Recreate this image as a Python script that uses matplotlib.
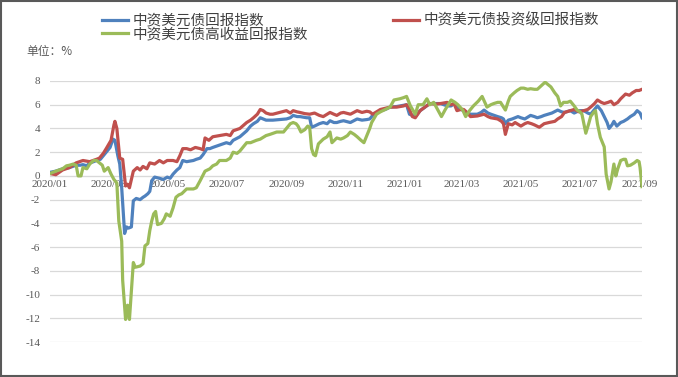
import numpy as np
import pandas as pd
import matplotlib
matplotlib.use('Agg')
import matplotlib.pyplot as plt
import matplotlib.dates as mdates
from matplotlib.patches import Rectangle

plt.rcParams['font.family'] = ['Liberation Serif', 'Noto Sans CJK SC']
plt.rcParams['axes.unicode_minus'] = False

start = pd.Timestamp('2020-01-01')

# days since 2020-01-01, values in %
blue_days = [0, 6, 13, 20, 27, 31, 34, 38, 41, 45, 48, 52, 55, 58, 62, 65, 67, 70, 72, 74,
             77, 79, 81, 84, 86, 89, 93, 96, 98, 101, 103, 105, 108, 113, 117, 121, 124, 127,
             131, 134, 137, 141, 148, 151, 155, 158, 162, 165, 168, 175, 182, 186, 189, 196,
             203, 207, 210, 214, 217, 220, 223, 230, 237, 244, 248, 251, 255, 258, 265, 268,
             270, 273, 278, 282, 286, 289, 293, 296, 300, 303, 310, 317, 322, 327, 330, 333,
             337, 341, 346, 351, 358, 365, 368, 371, 374, 377, 382, 387, 392, 398, 403, 410,
             414, 417, 420, 424, 427, 431, 434, 441, 445, 448, 452, 455, 462, 466, 468, 470,
             473, 477, 483, 486, 490, 496, 500, 503, 507, 510, 514, 518, 524, 528, 531, 537,
             541, 546, 551, 555, 558, 562, 565, 569, 572, 575, 577, 580, 582, 585, 589, 592,
             596, 599, 603, 606, 609, 611]
blue_vals = [0.3, 0.4, 0.6, 0.7, 0.9, 0.9, 0.95, 0.85, 1.1, 1.2, 1.3, 1.4, 1.7, 2.0, 2.4, 3.1,
             3.0, 1.7, 1.0, -1.0, -4.85, -4.3, -4.4, -4.3, -2.1, -1.9, -2.0, -1.8, -1.7, -1.5,
             -1.3, -0.4, -0.1, -0.2, -0.3, -0.1, -0.2, 0.15, 0.5, 0.7, 1.3, 1.2, 1.3, 1.4, 1.5,
             1.8, 2.3, 2.3, 2.4, 2.6, 2.8, 2.7, 3.0, 3.3, 3.8, 4.2, 4.4, 4.6, 4.9, 4.8, 4.7,
             4.7, 4.75, 4.8, 4.9, 5.1, 5.0, 5.0, 4.9, 4.9, 4.1, 4.2, 4.4, 4.5, 4.4, 4.65, 4.5,
             4.5, 4.6, 4.65, 4.5, 4.8, 4.7, 4.75, 4.8, 5.1, 5.3, 5.5, 5.6, 5.8, 5.85, 5.95, 6.0,
             5.2, 5.1, 5.0, 5.5, 5.8, 6.1, 6.1, 6.1, 5.9, 5.9, 6.1, 5.8, 5.6, 5.5, 5.3, 5.2,
             5.2, 5.35, 5.55, 5.3, 5.2, 5.0, 4.9, 4.8, 4.4, 4.7, 4.8, 5.0, 4.9, 4.8, 5.1, 5.0,
             4.9, 5.0, 5.1, 5.2, 5.3, 5.55, 5.4, 5.35, 5.5, 5.3, 5.5, 5.5, 5.3, 5.2, 5.6, 5.9,
             5.5, 5.0, 4.5, 4.0, 4.3, 4.6, 4.2, 4.5, 4.6, 4.8, 5.0, 5.2, 5.5, 5.3, 4.9]

red_days = [0, 6, 13, 20, 27, 34, 41, 48, 51, 55, 58, 63, 66, 67, 69, 72, 75, 78, 80, 82,
            86, 90, 93, 96, 100, 103, 108, 113, 117, 121, 127, 131, 134, 137, 141, 145, 150,
            155, 158, 160, 164, 168, 175, 182, 186, 189, 196, 203, 207, 210, 214, 217, 220,
            223, 227, 230, 237, 244, 248, 251, 255, 258, 263, 268, 273, 278, 282, 289, 293,
            296, 300, 303, 310, 317, 322, 327, 330, 333, 337, 341, 346, 351, 358, 365, 368,
            371, 374, 377, 382, 387, 392, 398, 403, 410, 414, 417, 420, 424, 427, 431, 434,
            441, 448, 452, 455, 462, 466, 468, 470, 473, 477, 480, 486, 490, 493, 497, 500,
            505, 510, 515, 521, 524, 528, 531, 537, 541, 546, 551, 555, 558, 562, 565, 569,
            572, 576, 579, 582, 586, 589, 594, 598, 601, 605, 608, 611]
red_vals = [0.2, 0.1, 0.5, 0.7, 1.1, 1.3, 1.2, 1.4, 1.5, 1.9, 2.3, 3.0, 4.3, 4.6, 4.0, 1.5,
            1.4, -0.85, -0.7, -1.0, 0.4, 0.7, 0.5, 0.8, 0.6, 1.1, 1.0, 1.3, 1.1, 1.3, 1.3, 1.2,
            1.7, 2.3, 2.3, 2.2, 2.4, 2.3, 2.2, 3.2, 3.0, 3.3, 3.4, 3.5, 3.4, 3.8, 4.0, 4.5,
            4.7, 4.9, 5.2, 5.6, 5.5, 5.3, 5.2, 5.2, 5.35, 5.5, 5.3, 5.5, 5.4, 5.35, 5.25, 5.2,
            5.3, 5.1, 5.0, 5.35, 5.2, 5.1, 5.3, 5.35, 5.2, 5.5, 5.35, 5.45, 5.4, 5.2, 5.4, 5.6,
            5.7, 5.8, 5.8, 5.9, 6.0, 5.6, 5.0, 4.9, 5.5, 5.8, 6.1, 6.05, 6.1, 6.2, 6.0, 6.1,
            5.5, 5.6, 5.6, 5.3, 5.0, 5.05, 5.2, 5.0, 4.9, 4.8, 4.6, 4.4, 3.5, 4.4, 4.3, 4.5,
            4.2, 4.4, 4.5, 4.4, 4.3, 4.1, 4.4, 4.5, 4.6, 4.8, 5.0, 5.35, 5.5, 5.6, 5.4, 5.5,
            5.6, 5.8, 6.1, 6.4, 6.2, 6.1, 6.2, 6.3, 6.0, 6.2, 6.5, 6.9, 6.8, 7.0, 7.2, 7.2,
            7.3]

green_days = [0, 6, 13, 17, 20, 24, 27, 29, 32, 34, 38, 41, 45, 48, 51, 54, 56, 60, 63, 66,
              69, 71, 74, 75, 77, 78, 80, 82, 84, 86, 88, 93, 96, 98, 101, 103, 105, 107, 109,
              111, 115, 118, 120, 124, 127, 130, 133, 136, 141, 148, 151, 155, 160, 165, 168,
              172, 175, 182, 186, 189, 193, 196, 200, 203, 207, 213, 217, 223, 227, 234, 241,
              244, 248, 251, 254, 256, 259, 263, 266, 268, 270, 272, 274, 277, 282, 286, 289,
              291, 296, 300, 303, 307, 310, 314, 317, 321, 324, 327, 330, 332, 337, 341, 346,
              351, 355, 361, 365, 368, 370, 372, 377, 380, 385, 389, 392, 396, 400, 404, 408,
              414, 418, 421, 426, 429, 433, 437, 442, 446, 451, 455, 458, 462, 465, 468, 470,
              473, 475, 479, 482, 486, 489, 493, 496, 500, 503, 507, 511, 514, 517, 521, 524,
              527, 530, 534, 537, 541, 544, 547, 549, 551, 553, 556, 558, 561, 563, 565, 568,
              572, 574, 577, 579, 580, 582, 584, 586, 589, 592, 594, 596, 599, 603, 606, 608,
              609, 611]
green_vals = [0.2, 0.4, 0.6, 0.85, 0.9, 1.0, 0.9, 0.0, 0.0, 0.7, 0.6, 1.0, 1.3, 1.3, 1.1,
              0.9, 0.4, 0.7, 0.15, -0.3, -0.6, -3.8, -5.5, -8.8, -11.0, -12.1, -10.9, -12.1,
              -9.7, -7.3, -7.7, -7.6, -7.4, -5.9, -5.7, -4.6, -3.8, -3.2, -3.0, -4.1, -4.0,
              -3.6, -3.2, -3.4, -2.7, -1.8, -1.6, -1.5, -1.1, -1.1, -1.0, -0.4, 0.4, 0.6, 0.85,
              1.0, 1.3, 1.3, 1.5, 2.0, 1.9, 2.1, 2.5, 2.8, 2.8, 3.0, 3.1, 3.4, 3.5, 3.7, 3.7,
              4.0, 4.4, 4.5, 4.4, 4.2, 3.7, 3.9, 4.2, 4.1, 2.3, 1.8, 1.7, 2.7, 3.1, 3.3, 3.7,
              2.8, 3.2, 3.1, 3.2, 3.4, 3.7, 3.5, 3.3, 3.0, 2.8, 3.4, 4.0, 4.5, 5.2, 5.4, 5.6,
              5.8, 6.4, 6.5, 6.6, 6.7, 6.3, 5.9, 5.2, 6.0, 6.0, 6.5, 6.0, 6.2, 5.6, 5.0, 5.6,
              6.4, 6.2, 6.0, 5.55, 5.0, 5.5, 5.9, 6.3, 6.7, 5.8, 6.0, 6.1, 6.2, 6.2, 5.8, 5.55,
              6.3, 6.7, 7.0, 7.2, 7.4, 7.4, 7.3, 7.35, 7.3, 7.3, 7.6, 7.9, 7.7, 7.5, 7.0, 6.7,
              5.9, 6.2, 6.2, 6.3, 5.9, 5.55, 5.4, 5.2, 4.4, 3.6, 4.4, 5.0, 5.35, 5.5, 4.4, 3.25,
              2.45, 0.15, -1.1, -0.5, 0.0, 1.0, 0.0, 0.6, 1.3, 1.4, 1.4, 0.85, 0.9, 1.1, 1.3,
              1.2, 0.7, -0.9]

labels = ['中资美元债回报指数', '中资美元债高收益回报指数', '中资美元债投资级回报指数']
colors = ['#4F81BD', '#9BBB59', '#C0504D']
yticks = np.arange(-14, 9, 2)


def to_dates(days):
    return start + pd.to_timedelta(days, unit='D')


fig = plt.figure(figsize=(6.78, 3.77), dpi=100)
ax = fig.add_axes([50 / 678, 1 - 342 / 377, 592 / 678, 261 / 377])

l1, = ax.plot(to_dates(blue_days), blue_vals, color=colors[0], lw=2.3, zorder=3)
l3, = ax.plot(to_dates(red_days), red_vals, color=colors[2], lw=2.3, zorder=4)
l2, = ax.plot(to_dates(green_days), green_vals, color=colors[1], lw=2.3, zorder=5)

ax.set_ylim(-14, 8)
ax.set_yticks(yticks)
ax.set_xlim(start, start + pd.Timedelta(days=611))
ax.xaxis.set_major_locator(mdates.MonthLocator(bymonth=[1, 3, 5, 7, 9, 11]))
ax.xaxis.set_major_formatter(mdates.DateFormatter('%Y/%m'))

ax.grid(axis='y', color='#D9D9D9', lw=0.9)
ax.set_axisbelow(True)
for s in ['left', 'right', 'top']:
    ax.spines[s].set_visible(False)
ax.spines['bottom'].set_position(('data', 0))
ax.spines['bottom'].set_color('#D9D9D9')
ax.tick_params(axis='both', length=0, colors='#595959', labelsize=8)
ax.tick_params(axis='x', pad=3)
ax.tick_params(axis='y', pad=7)

leg = fig.legend([l1, l2, l3], labels, ncol=2, loc='upper left',
                 bbox_to_anchor=(92 / 678, 1 - 3 / 377), frameon=False,
                 prop={'family': 'Noto Sans CJK SC', 'size': 10.5},
                 handlelength=1.8, handletextpad=0.3, columnspacing=5.8,
                 labelspacing=-0.02, borderpad=0.2)
for t in leg.get_texts():
    t.set_color('#404040')

fig.text(26 / 678, 1 - 52 / 377, '单位：%', fontsize=8.5, color='#595959',
         va='center', family=['Noto Sans CJK SC', 'DejaVu Sans'])

fig.patches.append(Rectangle((0.001, 0.002), 0.997, 0.996, transform=fig.transFigure,
                             fill=False, edgecolor='#595959', lw=1.5))

fig.savefig('out.png', dpi=100)
